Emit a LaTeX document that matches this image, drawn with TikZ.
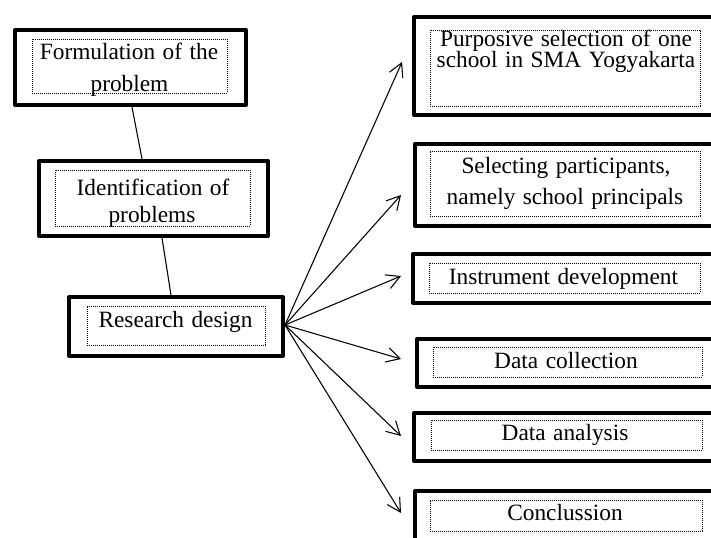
\documentclass[tikz,border=0pt]{standalone}
\usepackage{fontspec}
\setmainfont{Liberation Serif}
\usetikzlibrary{arrows.meta,calc}
\begin{document}
\begin{tikzpicture}[x=0.75pt,y=-0.75pt,
  outerbox/.style n args={2}{draw, line width=3pt, line join=round, inner sep=0pt,
    minimum width=#1*0.75pt, minimum height=#2*0.75pt},
  innerbox/.style n args={2}{draw, line width=0.7pt, dash pattern=on 0.7pt off 0.8pt,
    inner sep=0pt, minimum width=#1*0.75pt, minimum height=#2*0.75pt},
  label/.style={anchor=base, inner sep=0pt,
    font={\fontsize{17.5}{20}\selectfont\spaceskip=0.32em\relax}},
  link/.style={line width=0.8pt},
  arr/.style={line width=0.8pt, -{Straight Barb[length=10pt,width=11pt,line width=0.8pt]}}
]
\useasboundingbox (0,0) rectangle (711,537);
\clip (0,0) rectangle (711,537);

% left column
\node[outerbox={231}{75}] (f1) at (130.5,67.5) {};
\node[innerbox={195}{54}] (d1) at (129.5,66) {};
\node[label] (t1a) at (129,59) {Formulation of the};
\node[label] (t1b) at (129.5,91) {problem};

\node[outerbox={229}{75}] (f2) at (153.5,198.5) {};
\node[innerbox={195}{56}] (d2) at (152.5,198) {};
\node[label] (t2a) at (153,195) {Identification of};
\node[label] (t2b) at (152,222) {problems};

\node[outerbox={214}{59}] (f3) at (176,326.5) {};
\node[innerbox={178}{39}] (d3) at (176,325.5) {};
\node[label] (t3) at (175.5,327) {Research design};

% right column
\node[outerbox={311}{98}] (g1) at (569.5,66) {};
\node[innerbox={270}{76}] (d4) at (565,68) {};
\node[label] (t4a) at (566,46) {Purposive selection of one};
\node[label] (t4b) at (566,67) {school in SMA Yogyakarta};

\node[outerbox={310}{82}] (g2) at (570,185) {};
\node[innerbox={270}{65}] (d5) at (565,183.5) {};
\node[label] (t5a) at (566,173) {Selecting participants,};
\node[label] (t5b) at (565,204) {namely school principals};

\node[outerbox={312}{49}] (g3) at (569,278.5) {};
\node[innerbox={271}{30}] (d6) at (564.5,278) {};
\node[label] (t6) at (563.5,284) {Instrument development};

\node[outerbox={308}{48}] (g4) at (571,363) {};
\node[innerbox={269}{30}] (d7) at (567.5,362) {};
\node[label] (t7) at (566,368) {Data collection};

\node[outerbox={311}{48}] (g5) at (569.5,437) {};
\node[innerbox={271}{30}] (d8) at (566.5,435) {};
\node[label] (t8) at (565,440) {Data analysis};

\node[outerbox={310}{59}] (g6) at (570,520.5) {};
\node[innerbox={272}{31}] (d9) at (566,515.5) {};
\node[label] (t9) at (565,520) {Conclussion};

% connectors
\draw[link] ($(f1.south)+(1.5,0)$) -- ($(f2.north)+(-11.5,0)$);
\draw[link] ($(f2.south)+(8.5,0)$) -- ($(f3.north)+(-5,0)$);

\coordinate (o) at ($(f3.east)+(0,-1.5)$);
\draw[arr] (o) -- ($(g1.west)+(-10,-4)$);
\draw[arr] (o) -- ($(g2.west)+(-12,10)$);
\draw[arr] (o) -- ($(g3.west)+(-10,-2.5)$);
\draw[arr] (o) -- ($(g4.west)+(-14,-4)$);
\draw[arr] (o) -- ($(g5.west)+(-11,-1)$);
\draw[arr] (o) -- ($(g6.west)+(-12,-7.5)$);
\end{tikzpicture}
\end{document}
